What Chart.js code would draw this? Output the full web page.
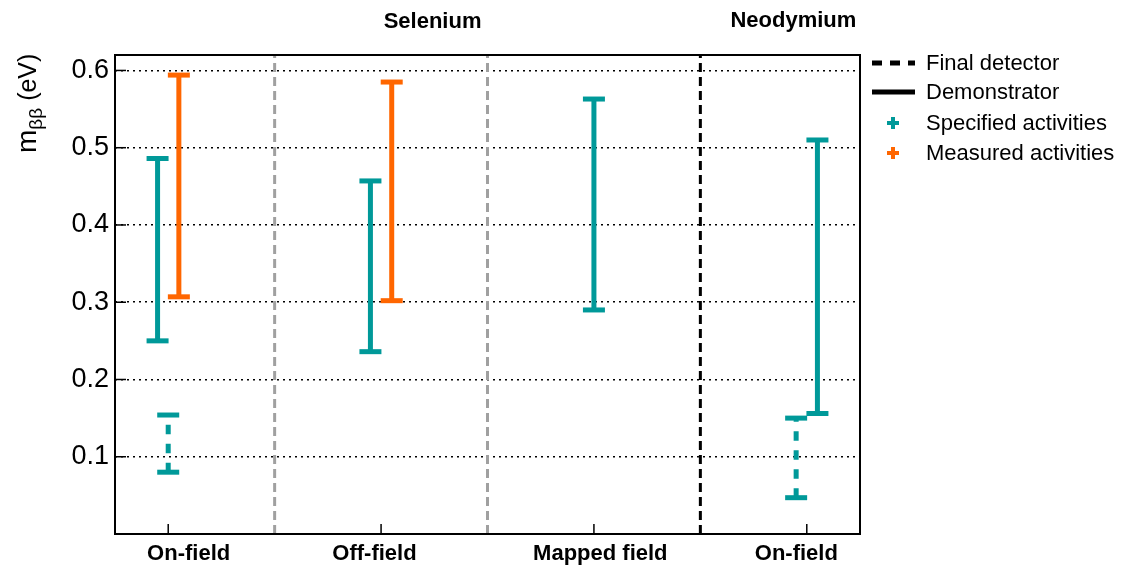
<!DOCTYPE html>
<html><head><meta charset="utf-8">
<script src="https://cdn.jsdelivr.net/npm/chart.js@4.4.1/dist/chart.umd.min.js"></script>
<style>html,body{margin:0;padding:0;background:#fff;}#wrap{width:1126px;height:568px;position:relative;}</style>
</head><body><div id="wrap"><canvas id="c"></canvas></div>
<script>
const categories = ['On-field','Off-field','Mapped field','On-field'];
const groupTitles = ['Selenium','Neodymium'];
const yTickValues = [0.1,0.2,0.3,0.4,0.5,0.6];
// Demonstrator, specified activities
const specDemoLow  = [0.250, 0.236, 0.290, 0.156];
const specDemoHigh = [0.486, 0.457, 0.563, 0.510];
// Demonstrator, measured activities
const measDemoLow  = [0.307, 0.302, null, null];
const measDemoHigh = [0.594, 0.585, null, null];
// Final detector, specified activities
const specFinalLow  = [0.080, null, null, 0.047];
const specFinalHigh = [0.154, null, null, 0.150];
const legendLabels = ['Final detector','Demonstrator','Specified activities','Measured activities'];

const TEAL='#009999', ORANGE='#ff6600';
const FONT='"Liberation Sans", Arial, Helvetica, sans-serif';
// layout: offsets within each category (axis units) and label anchors
const specDemoOff  = [-0.05,-0.05,0,0.05];
const measDemoOff  = [0.05,0.05,0,0];
const specFinalOff = [0,0,0,-0.05];
const labelOff = [0.096,-0.031,0.03,-0.049];
const groupTitleX = [1.742,3.437];

function bars(low, high, off, color, dashed, label){
  const ds=[];
  low.forEach((lo,i)=>{
    if(lo==null) return;
    const x=i+0.5+off[i];
    ds.push({label, data:[{x:x,y:lo},{x:x,y:high[i]}], borderColor:color, backgroundColor:color,
      borderWidth:5, borderDash: dashed?[9.5,9.5]:[], borderCapStyle:'butt',
      pointStyle:'line', pointRadius:11, pointHoverRadius:11, pointBorderWidth:5, pointHoverBorderWidth:5,
      pointBorderColor:color, pointBackgroundColor:color, fill:false, tension:0});
  });
  return ds;
}

const datasets = [].concat(
  bars(specFinalLow, specFinalHigh, specFinalOff, TEAL, true, 'Final detector - specified'),
  bars(specDemoLow, specDemoHigh, specDemoOff, TEAL, false, 'Demonstrator - specified'),
  bars(measDemoLow, measDemoHigh, measDemoOff, ORANGE, false, 'Demonstrator - measured')
);

function line(ctx,x1,y1,x2,y2){ctx.beginPath();ctx.moveTo(x1,y1);ctx.lineTo(x2,y2);ctx.stroke();}

const decor = {
  id:'decor',
  beforeDatasetsDraw(chart){
    const {ctx, chartArea:a, scales:{x,y}} = chart;
    ctx.save();
    ctx.lineWidth=3;
    [[1,'#a0a0a0'],[2,'#a0a0a0'],[3,'#000000']].forEach(([v,c])=>{
      const px=x.getPixelForValue(v);
      ctx.strokeStyle=c; ctx.setLineDash([9,5]);
      line(ctx,px,a.bottom,px,a.top);
    });
    ctx.setLineDash([]); ctx.strokeStyle='#000'; ctx.lineWidth=1.5;
    yTickValues.forEach(v=>{const py=y.getPixelForValue(v); line(ctx,a.left,py,a.left+11,py);});
    categories.forEach((c,i)=>{const px=x.getPixelForValue(i+0.5); line(ctx,px,a.bottom,px,a.bottom-10);});
    ctx.lineWidth=2;
    ctx.strokeRect(a.left,a.top,a.right-a.left,a.bottom-a.top);
    ctx.restore();
  },
  afterDraw(chart){
    const {ctx, chartArea:a, scales:{x}} = chart;
    ctx.save();
    ctx.fillStyle='#000';
    // group titles
    ctx.font='bold 22px '+FONT; ctx.textAlign='center'; ctx.textBaseline='alphabetic';
    ctx.fillText(groupTitles[0], x.getPixelForValue(groupTitleX[0]), 28);
    ctx.fillText(groupTitles[1], x.getPixelForValue(groupTitleX[1]), 27);
    // y axis title: m_ββ (eV)
    ctx.save();
    ctx.translate(36,153); ctx.rotate(-Math.PI/2);
    ctx.textAlign='left'; ctx.textBaseline='alphabetic';
    ctx.font='28px '+FONT;
    ctx.fillText('m',0,0);
    let w=ctx.measureText('m').width;
    ctx.font='19px '+FONT;
    ctx.fillText('\u03b2\u03b2',w,6);
    w+=ctx.measureText('\u03b2\u03b2').width;
    ctx.font='25px '+FONT;
    ctx.fillText(' (eV)',w,0);
    ctx.restore();
    // legend
    const lx1=872, lx2=915, tx=926, ys=[63,92,123,153];
    ctx.strokeStyle='#000'; ctx.lineWidth=5;
    ctx.setLineDash([10,8]); line(ctx,lx1,ys[0],lx2,ys[0]);
    ctx.setLineDash([]); line(ctx,lx1,ys[1],lx2,ys[1]);
    [[ys[2],TEAL],[ys[3],ORANGE]].forEach(([yy,c])=>{
      ctx.strokeStyle=c; ctx.lineWidth=4;
      line(ctx,887,yy,899,yy); line(ctx,893,yy-6,893,yy+6);
    });
    ctx.fillStyle='#000'; ctx.font='22px '+FONT; ctx.textAlign='left'; ctx.textBaseline='middle';
    legendLabels.forEach((t,i)=>ctx.fillText(t,tx,ys[i]+1));
    ctx.restore();
  }
};

new Chart(document.getElementById('c'), {
  type:'line',
  data:{datasets},
  options:{
    responsive:true, maintainAspectRatio:false, animation:false,
    layout:{padding:{top:55,right:266,left:0,bottom:0}},
    plugins:{legend:{display:false}, tooltip:{enabled:false}},
    events:[],
    scales:{
      x:{type:'linear', min:0.25, max:3.75,
        afterBuildTicks(s){ s.ticks = categories.map((c,i)=>({value:i+0.5+labelOff[i]})); },
        afterFit(s){ s.height=34; },
        ticks:{callback:(v,i)=>categories[i], font:{family:FONT,size:22,weight:'bold'}, color:'#000', padding:7, maxRotation:0, autoSkip:false},
        grid:{display:false, drawTicks:false}, border:{display:false}},
      y:{type:'linear', min:0, max:0.62,
        afterBuildTicks(s){ s.ticks = yTickValues.map(v=>({value:v})); },
        afterFit(s){ s.width=115; },
        ticks:{callback:v=>v.toFixed(1), font:{family:FONT,size:27}, color:'#000', padding:6},
        grid:{color:'#000', lineWidth:1.5, drawTicks:false}, border:{display:false, dash:[2,4]}}
    }
  },
  plugins:[decor]
});
</script></body></html>
